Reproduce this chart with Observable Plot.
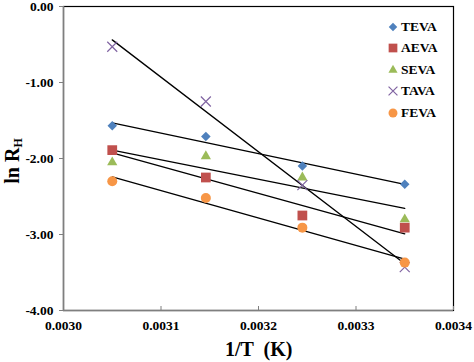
<!DOCTYPE html>
<html><head><meta charset="utf-8">
<script src="https://cdn.jsdelivr.net/npm/d3@7"></script>
<script src="https://cdn.jsdelivr.net/npm/@observablehq/plot@0.6"></script>
<style>
body{margin:0;background:#fff;}
#wrap{position:relative;width:474px;height:362px;overflow:hidden;font-family:"Liberation Serif","Times New Roman",serif;font-weight:bold;}
#xlab{position:absolute;left:225px;top:339px;line-height:20px;font-size:20px;white-space:pre;}
#ylab{position:absolute;left:15px;top:161px;transform:translate(-50%,-50%) rotate(-90deg);font-size:20px;line-height:22px;white-space:nowrap;}
#ylab sub{font-size:12px;vertical-align:-3px;}
#legend{position:absolute;left:387px;top:16px;font-size:13.5px;}
#legend .row{display:flex;align-items:center;height:21.5px;}
#legend svg{width:12px;height:12px;margin-right:2px;}
</style></head>
<body><div id="wrap"><div id="chart"></div><div id="xlab">1/T  (K)</div><div id="ylab">ln R<sub>H</sub></div><div id="legend"></div></div>
<script>
const series = ["TEVA","AEVA","SEVA","TAVA","FEVA"];
const invT = [0.00305, 0.003146, 0.003245, 0.00335];
const TEVA = [-1.57, -1.71, -2.10, -2.34];
const AEVA = [-1.89, -2.25, -2.75, -2.91];
const SEVA = [-2.05, -1.97, -2.25, -2.80];
const TAVA = [-0.53, -1.25, -2.35, -3.43];
const FEVA = [-2.30, -2.52, -2.91, -3.37];
const xTicks = [0.0030, 0.0031, 0.0032, 0.0033, 0.0034];
const yTicks = [0, -1, -2, -3, -4];
const colors = ["#4F81BD","#C0504D","#9BBB59","#8064A2","#F79646"];
const symbols = ["diamond2","square","triangle","times","circle"];
const radii = [4.3, 5.5, 3.8, 4.6, 5];

const values = {TEVA, AEVA, SEVA, TAVA, FEVA};
const data = series.flatMap(s => invT.map((x, i) => ({series: s, x, y: values[s][i]})));

const dotMarks = series.map((s, k) => {
  const d = data.filter(p => p.series === s);
  return symbols[k] === "times"
    ? Plot.dot(d, {x: "x", y: "y", symbol: symbols[k], stroke: colors[k], strokeWidth: 1.2, r: radii[k]})
    : Plot.dot(d, {x: "x", y: "y", symbol: symbols[k], fill: colors[k], stroke: "none", r: radii[k]});
});

const chart = Plot.plot({
  width: 474, height: 362,
  marginLeft: 63, marginRight: 21, marginTop: 6, marginBottom: 52,
  style: {fontFamily: "'Liberation Serif','Times New Roman',serif", fontWeight: "bold", fontSize: "13.5px", color: "black", background: "white", overflow: "visible"},
  x: {domain: [0.0030, 0.0034]},
  y: {domain: [-4, 0]},
  marks: [
    Plot.frame({stroke: "black", strokeWidth: 1.2}),
    Plot.ruleX([0.0030], {stroke: "#7f7f7f", strokeWidth: 1.5}),
    Plot.ruleY([-4], {stroke: "#7f7f7f", strokeWidth: 1.5}),
    Plot.axisX({ticks: xTicks, tickFormat: d => d.toFixed(4), tickSize: -4, tickPadding: 14, stroke: "#7f7f7f", fill: "black", label: null}),
    Plot.axisY({ticks: yTicks, tickFormat: d => d.toFixed(2), tickSize: 4, tickPadding: 6, stroke: "#7f7f7f", fill: "black", label: null}),
    Plot.linearRegressionY(data, {x: "x", y: "y", z: "series", stroke: "black", strokeWidth: 1.3, ci: 0}),
    ...dotMarks
  ]
});
document.getElementById("chart").appendChild(chart);

const leg = d3.select("#legend");
const symMap = {diamond2: d3.symbolDiamond2, square: d3.symbolSquare, triangle: d3.symbolTriangle, times: d3.symbolTimes, circle: d3.symbolCircle};
series.forEach((s, k) => {
  const row = leg.append("div").attr("class", "row");
  const svg = row.append("svg").attr("viewBox", "-6 -6 12 12");
  const sz = Math.PI * radii[k] * radii[k] * 0.8;
  const p = svg.append("path").attr("d", d3.symbol(symMap[symbols[k]], sz)());
  if (symbols[k] === "times") p.attr("fill", "none").attr("stroke", colors[k]).attr("stroke-width", 1.2);
  else p.attr("fill", colors[k]);
  row.append("span").text(s);
});
</script></body></html>
